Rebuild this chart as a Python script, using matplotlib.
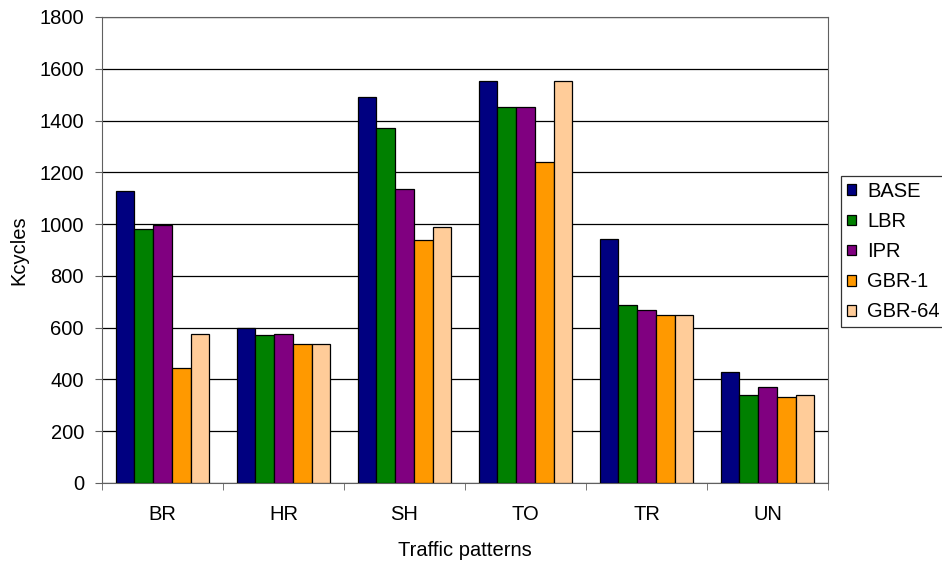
import numpy as np
import matplotlib.pyplot as plt

plt.rcParams['font.family'] = ['Liberation Sans', 'DejaVu Sans']

# data
patterns = ['BR', 'HR', 'SH', 'TO', 'TR', 'UN']
base = [1128, 600, 1492, 1552, 942, 428]
lbr = [980, 572, 1370, 1454, 688, 340]
ipr = [997, 576, 1137, 1451, 668, 372]
gbr1 = [444, 535, 939, 1239, 650, 334]
gbr64 = [577, 535, 990, 1552, 650, 340]

series = [('BASE', base, '#000080'), ('LBR', lbr, '#008000'),
          ('IPR', ipr, '#800080'), ('GBR-1', gbr1, '#FF9900'),
          ('GBR-64', gbr64, '#FFCC99')]

fs = 14.5

fig = plt.figure(figsize=(9.42, 5.61), dpi=100)
ax = fig.add_axes([102 / 942, 78 / 561, 726 / 942, 466 / 561])

x = np.arange(len(patterns))
w = 0.155
for i, (name, vals, col) in enumerate(series):
    ax.bar(x + (i - 2) * w, vals, w, color=col, edgecolor='black',
           linewidth=0.9, label=name, zorder=3)

ax.set_xlim(-0.5, len(patterns) - 0.5)
ax.set_ylim(0, 1800)
ax.set_yticks(range(0, 1801, 200))
ax.yaxis.grid(True, color='black', linewidth=0.9, zorder=0)
ax.set_xticks(x)
ax.set_xticklabels(patterns)
ax.set_xticks(np.arange(-0.5, len(patterns), 1), minor=True)
ax.tick_params(axis='x', which='major', length=0, labelsize=fs, pad=16)
ax.tick_params(axis='x', which='minor', length=5, color='#606060')
ax.tick_params(axis='y', labelsize=fs, length=5, pad=8, color='#606060')
for s in ax.spines.values():
    s.set_color('#606060')

ax.set_xlabel('Traffic patterns', fontsize=fs, labelpad=12)
ax.set_ylabel('Kcycles', fontsize=fs, labelpad=8)

leg = fig.legend(loc='upper left', bbox_to_anchor=(841 / 942, 1 - 176 / 561),
                 frameon=True, fancybox=False, edgecolor='black', fontsize=fs,
                 handlelength=0.45, handleheight=0.45, handletextpad=0.55,
                 borderaxespad=0, labelspacing=0.55, borderpad=0.3)
leg.get_frame().set_linewidth(0.9)

fig.savefig('out.png', dpi=100)
